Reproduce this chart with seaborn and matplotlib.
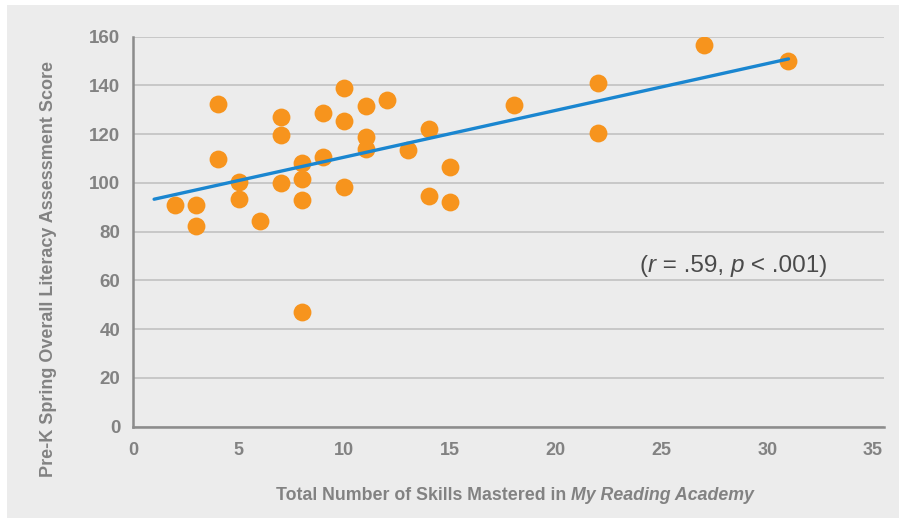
import matplotlib
matplotlib.use("Agg")
import matplotlib.pyplot as plt
import seaborn as sns
import pandas as pd

# skills mastered vs. literacy score
skills = [2, 3, 3, 4, 4, 5, 5, 6, 7, 7, 7, 8, 8, 8, 8, 9, 9, 10, 10, 10,
          11, 11, 11, 12, 13, 14, 14, 15, 15, 18, 22, 22, 27, 31]
scores = [91, 91, 82.5, 132.5, 110, 100.5, 93.5, 84.5, 127, 119.5, 100, 108, 101.5, 93, 47,
          128.5, 110.5, 139, 125.5, 98.5, 131.5, 119, 114, 134, 113.5, 122, 94.5, 106.5, 92,
          132, 141, 120.5, 156.5, 150]

# excel trendline endpoints
trend_x = [1, 31]
trend_y = [93.3, 150.9]

x_ticks = [0, 5, 10, 15, 20, 25, 30, 35]
y_ticks = [0, 20, 40, 60, 80, 100, 120, 140, 160]

df = pd.DataFrame({"skills": skills, "score": scores})

sns.set_style("white")
plt.rcParams["font.family"] = ["Liberation Sans", "DejaVu Sans"]

BG = "#ececec"
GREY = "#828282"

fig = plt.figure(figsize=(8.99, 5.18), dpi=100, facecolor="white")
fig.patches.append(plt.Rectangle((7 / 899, 0), 1 - 7 / 899, 1 - 5 / 518,
                                 transform=fig.transFigure, facecolor=BG,
                                 edgecolor="none", zorder=-10))
ax = fig.add_axes([0.1479, 0.1766, 0.835, 0.7525])
ax.set_facecolor(BG)

sns.scatterplot(data=df, x="skills", y="score", ax=ax, color="#f7941d",
                s=165, linewidth=0, zorder=3)
sns.lineplot(x=trend_x, y=trend_y, ax=ax, color="#1a86d0", linewidth=2.4, zorder=4)

ax.set_xlim(0, 35.5)
ax.set_ylim(0, 160)
ax.set_xticks(x_ticks)
ax.set_yticks(y_ticks)
ax.yaxis.grid(True, color="#c8c8c8", linewidth=1.4)
ax.set_axisbelow(True)
for side in ["top", "right"]:
    ax.spines[side].set_visible(False)
for side in ["left", "bottom"]:
    ax.spines[side].set_color("#8c8c8c")
    ax.spines[side].set_linewidth(1.8)
ax.tick_params(length=0, labelcolor=GREY)
ax.tick_params(axis="x", pad=11, labelsize=13)
ax.tick_params(axis="y", pad=9, labelsize=13.5)
for lbl in ax.get_xticklabels() + ax.get_yticklabels():
    lbl.set_fontweight("bold")

ax.set_xlabel("")
ax.set_ylabel("Pre-K Spring Overall Literacy Assessment Score", fontsize=13,
              fontweight="bold", color=GREY)
ax.yaxis.set_label_coords(-0.101, 0.405)

# x label with italic product name
t1 = fig.text(0.635, 0.035, "Total Number of Skills Mastered in ", ha="right",
              va="baseline", fontsize=12.8, fontweight="bold", color=GREY)
ax.annotate("My Reading Academy", xy=(1, 0), xycoords=t1, ha="left", va="bottom",
            fontsize=12.8, fontweight="bold", style="italic", color=GREY)

# correlation note
TXT = "#4a4a4a"
kw = dict(fontsize=17.5, color=TXT, va="bottom", ha="left")
n1 = ax.text(23.95, 61.3, "(", **kw)
n2 = ax.annotate("r", xy=(1, 0), xycoords=n1, style="italic", **kw)
n3 = ax.annotate(" = .59, ", xy=(1, 0), xycoords=n2, **kw)
n4 = ax.annotate("p", xy=(1, 0), xycoords=n3, style="italic", **kw)
ax.annotate(" < .001)", xy=(1, 0), xycoords=n4, **kw)

fig.savefig("out.png", dpi=100, facecolor=fig.get_facecolor())
